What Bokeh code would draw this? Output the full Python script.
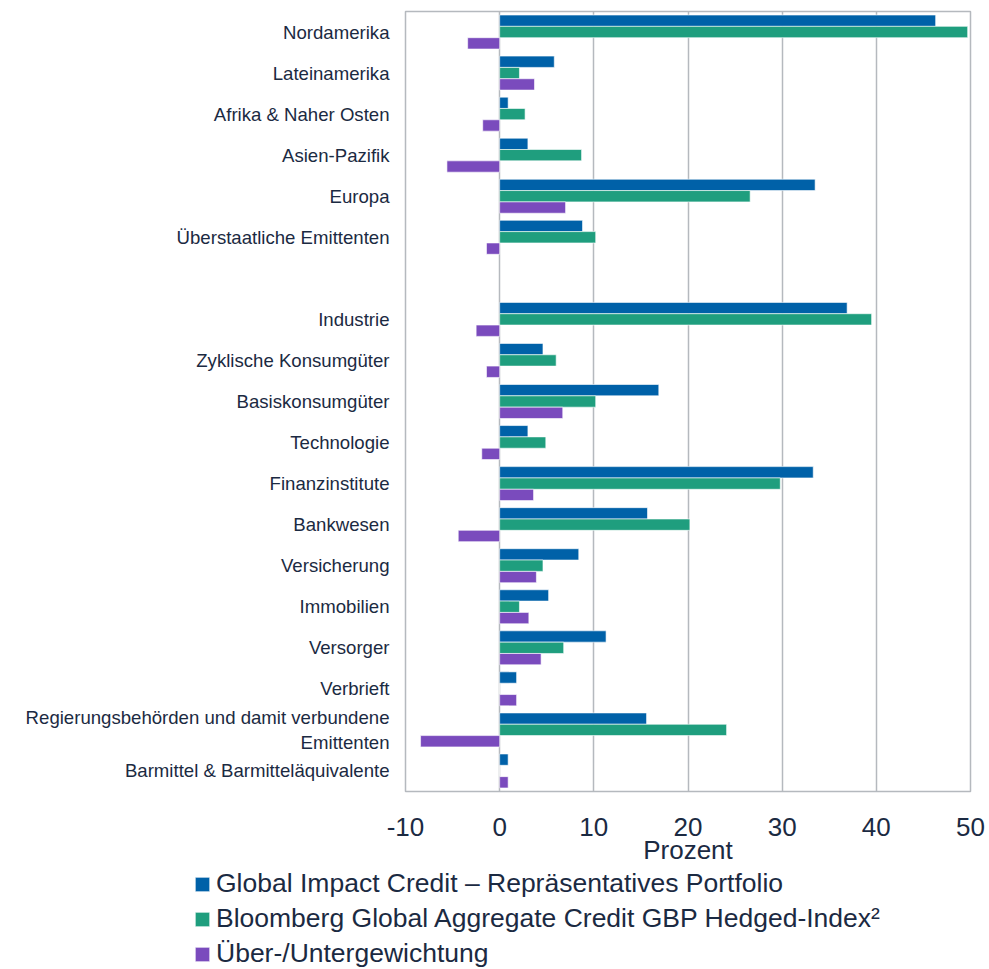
from bokeh.plotting import figure
from bokeh.models import ColumnDataSource, FactorRange, Range1d, FixedTicker, Legend, LegendItem
from bokeh.transform import dodge
from bokeh.layouts import column
from bokeh.embed import file_html
from bokeh.resources import INLINE

categories = [
    "Nordamerika", "Lateinamerika", "Afrika & Naher Osten", "Asien-Pazifik", "Europa",
    "Überstaatliche Emittenten",
    "Industrie", "Zyklische Konsumgüter", "Basiskonsumgüter", "Technologie",
    "Finanzinstitute", "Bankwesen", "Versicherung", "Immobilien", "Versorger", "Verbrieft",
    "Regierungsbehörden und damit verbundene\nEmittenten", "Barmittel & Barmitteläquivalente",
]
portfolio = [46.3, 5.8, 0.9, 3.0, 33.5, 8.8,
             36.9, 4.6, 16.9, 3.0, 33.3, 15.7, 8.4, 5.2, 11.3, 1.8, 15.6, 0.9]
benchmark = [49.7, 2.1, 2.7, 8.7, 26.6, 10.2,
             39.5, 6.0, 10.2, 4.9, 29.8, 20.2, 4.6, 2.1, 6.8, 0.0, 24.1, 0.0]
difference = [-3.4, 3.7, -1.8, -5.6, 7.0, -1.4,
              -2.5, -1.4, 6.7, -1.9, 3.6, -4.4, 3.9, 3.1, 4.4, 1.8, -8.4, 0.9]
gap_label = " "
x_ticks = [-10, 0, 10, 20, 30, 40, 50]
series_names = [
    "Global Impact Credit – Repräsentatives Portfolio",
    "Bloomberg Global Aggregate Credit GBP Hedged-Index²",
    "Über-/Untergewichtung",
]
colors = ["#0061A8", "#1F9E7E", "#7A4BBD"]
text_color = "#1B2A42"

factors = categories[:6] + [gap_label] + categories[6:]

src = ColumnDataSource(dict(cat=categories, a=portfolio, b=benchmark, c=difference))

p = figure(width=989, height=867,
           y_range=FactorRange(factors=list(reversed(factors))),
           x_range=Range1d(-10, 50),
           output_backend="svg", toolbar_location=None,
           min_border_left=405, min_border_right=19, min_border_top=11, min_border_bottom=76)
p.frame_align = False

bh = 0.276
cols = ["a", "b", "c"]
offsets = [bh, 0, -bh]
for col, off, c in zip(cols, offsets, colors):
    p.hbar(y=dodge("cat", off, range=p.y_range), right=col, left=0, height=bh, source=src,
           fill_color=c, line_color="white", line_alpha=0.6, line_width=1)

p.outline_line_color = "#B5B9BE"
p.outline_line_width = 1.5
p.ygrid.grid_line_color = None
p.xgrid.grid_line_color = "#B5B9BE"
p.xgrid.grid_line_width = 1.5
p.xaxis.ticker = FixedTicker(ticks=x_ticks)
p.xaxis.major_label_overrides = {t: str(t) for t in x_ticks}

for ax in (p.xaxis, p.yaxis):
    ax.axis_line_color = None
    ax.major_tick_line_color = None
    ax.minor_tick_line_color = None
    ax.major_label_text_color = text_color
    ax.major_label_text_font = "Liberation Sans"

p.yaxis.major_label_text_font_size = "18.6px"
p.yaxis.major_label_standoff = 10
p.xaxis.major_label_text_font_size = "26px"
p.xaxis.major_label_standoff = 20
p.xaxis.axis_label = "Prozent"
p.xaxis.axis_label_text_font = "Liberation Sans"
p.xaxis.axis_label_text_font_size = "26px"
p.xaxis.axis_label_text_font_style = "normal"
p.xaxis.axis_label_text_color = text_color
p.xaxis.axis_label_standoff = -4

# legend strip below the chart (bars of this helper lie outside its visible range)
lg = figure(width=989, height=102, x_range=Range1d(0, 1), y_range=Range1d(0, 1),
            output_backend="svg", toolbar_location=None,
            min_border_left=0, min_border_right=0, min_border_top=0, min_border_bottom=0)
lg.frame_align = False
lg.axis.visible = False
lg.grid.grid_line_color = None
lg.outline_line_color = None
hidden = ColumnDataSource(dict(y=[-10], r=[-5]))
items = []
for name, c in zip(series_names, colors):
    rr = lg.hbar(y="y", right="r", left=-6, height=0.1, source=hidden,
                 fill_color=c, line_color="white", line_alpha=0.6, line_width=1)
    items.append(LegendItem(label=name, renderers=[rr]))

legend = Legend(items=items, location=(193, 0), orientation="vertical",
                label_text_font="Liberation Sans", label_text_font_size="26.5px",
                label_text_color=text_color, glyph_width=18, glyph_height=18,
                label_height=26, spacing=4, padding=0, margin=0, label_standoff=5,
                border_line_color=None, background_fill_alpha=0)
lg.add_layout(legend, "center")

layout = column(p, lg, spacing=0)
open("out.html", "w").write(file_html(layout, INLINE))
